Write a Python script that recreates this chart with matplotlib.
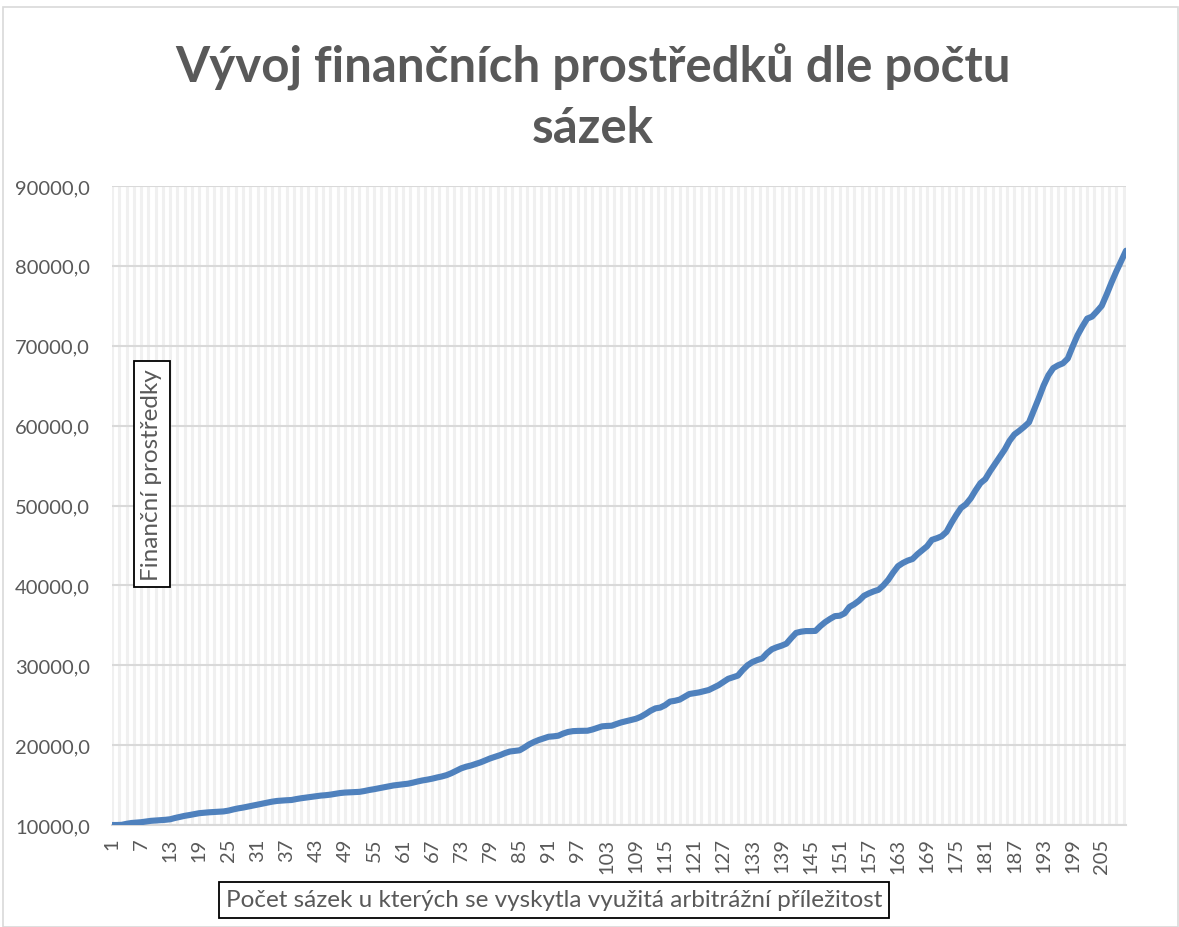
import numpy as np
import matplotlib
matplotlib.use("Agg")
import matplotlib.pyplot as plt
from matplotlib.patches import Rectangle

plt.rcParams['font.family'] = ['Lato', 'DejaVu Sans']

# pocet sazek 1..210
sazky = np.arange(1, 211)

# financni prostredky
prostredky = [
    10000, 10000, 10020, 10150, 10250, 10300, 10350, 10430, 10520, 10560,
    10600, 10650, 10720, 10880, 11020, 11150, 11250, 11370, 11480, 11540,
    11590, 11630, 11660, 11700, 11800, 11950, 12080, 12180, 12300, 12420,
    12550, 12680, 12800, 12920, 13010, 13060, 13100, 13130, 13250, 13350,
    13430, 13520, 13600, 13680, 13730, 13800, 13900, 14000, 14060, 14090,
    14110, 14150, 14250, 14380, 14480, 14600, 14720, 14850, 14950, 15030,
    15100, 15170, 15300, 15450, 15580, 15680, 15800, 15950, 16080, 16250,
    16500, 16800, 17100, 17300, 17450, 17650, 17850, 18100, 18350, 18550,
    18750, 19000, 19200, 19280, 19350, 19700, 20100, 20400, 20650, 20850,
    21050, 21100, 21180, 21450, 21650, 21750, 21780, 21790, 21800, 21950,
    22150, 22350, 22400, 22430, 22650, 22850, 23000, 23150, 23300, 23550,
    23900, 24300, 24600, 24700, 25000, 25450, 25550, 25700, 26050, 26400,
    26500, 26600, 26750, 26900, 27200, 27500, 27900, 28300, 28500, 28700,
    29400, 30000, 30400, 30650, 30850, 31500, 32000, 32250, 32450, 32700,
    33400, 34050, 34200, 34280, 34280, 34300, 34900, 35400, 35800, 36150,
    36200, 36500, 37300, 37650, 38100, 38700, 39000, 39250, 39450, 40000,
    40700, 41600, 42400, 42800, 43100, 43300, 43900, 44400, 44900, 45700,
    45900, 46150, 46700, 47800, 48800, 49700, 50150, 50900, 51900, 52800,
    53300, 54300, 55200, 56100, 57000, 58100, 58900, 59350, 59850, 60400,
    61900, 63400, 65000, 66300, 67200, 67550, 67800, 68400, 69900, 71300,
    72400, 73400, 73650, 74300, 75000, 76400, 77900, 79300, 80600, 81900,
]

y_ticks = [10000, 20000, 30000, 40000, 50000, 60000, 70000, 80000, 90000]
x_tick_pos = sazky[::6]

titulek = "Vývoj finančních prostředků dle počtu\nsázek"
popis_y = "Finanční prostředky"
popis_x = "Počet sázek u kterých se vyskytla využitá arbitrážní příležitost"

seda = '#595959'

fig = plt.figure(figsize=(11.79, 9.28), dpi=100)
ax = fig.add_axes([112/1179, 1-826/928, (1126-112)/1179, (826-187)/928])

# ramecek grafu
fig.patches.append(Rectangle((3/1179, 0), 1175/1179, 1-8/928, transform=fig.transFigure,
                             fill=False, edgecolor='#d9d9d9', linewidth=1.2))

# svisle mrizky
ax.set_xticks(np.arange(1, 210.5, 1.5), minor=True)
ax.grid(which='minor', axis='x', color='#f0f0f0', linewidth=2.2, zorder=0)
ax.grid(which='major', axis='x', color='#f0f0f0', linewidth=2.2, zorder=0)
ax.grid(which='major', axis='y', color='#d9d9d9', linewidth=1.5, zorder=1)
ax.tick_params(which='minor', length=0)

ax.plot(sazky, prostredky, color='#4f81bd', linewidth=4.4,
        solid_capstyle='round', solid_joinstyle='round', zorder=3)

ax.set_xlim(1, 210)
ax.set_ylim(10000, 90000)
ax.set_yticks(y_ticks)
ax.set_yticklabels([f"{v:.1f}".replace('.', ',') for v in y_ticks])
ax.set_xticks(x_tick_pos)
ax.set_xticklabels([str(v) for v in x_tick_pos], rotation=90)
ax.tick_params(axis='y', length=0, pad=16, labelsize=14.5, labelcolor=seda)
ax.tick_params(axis='x', length=0, pad=9, labelsize=14.5, labelcolor=seda)

for s in ['top', 'right', 'left']:
    ax.spines[s].set_visible(False)
ax.spines['bottom'].set_color('#d9d9d9')
ax.spines['bottom'].set_linewidth(1.5)

fig.text(593/1179, 1-97/928, titulek, ha='center', va='center', fontsize=35.5,
         fontweight='bold', color=seda, linespacing=1.4)

fig.text(152/1179, 1-475/928, popis_y, rotation=90, ha='center', va='center',
         fontsize=17.5, color=seda,
         bbox=dict(boxstyle='square,pad=0.3', facecolor='white', edgecolor='black', linewidth=1.3))

fig.text(554/1179, 1-901/928, popis_x, ha='center', va='center', fontsize=17.5, color=seda,
         bbox=dict(boxstyle='square,pad=0.3', facecolor='white', edgecolor='black', linewidth=1.3))

fig.savefig('out.png', dpi=100)
